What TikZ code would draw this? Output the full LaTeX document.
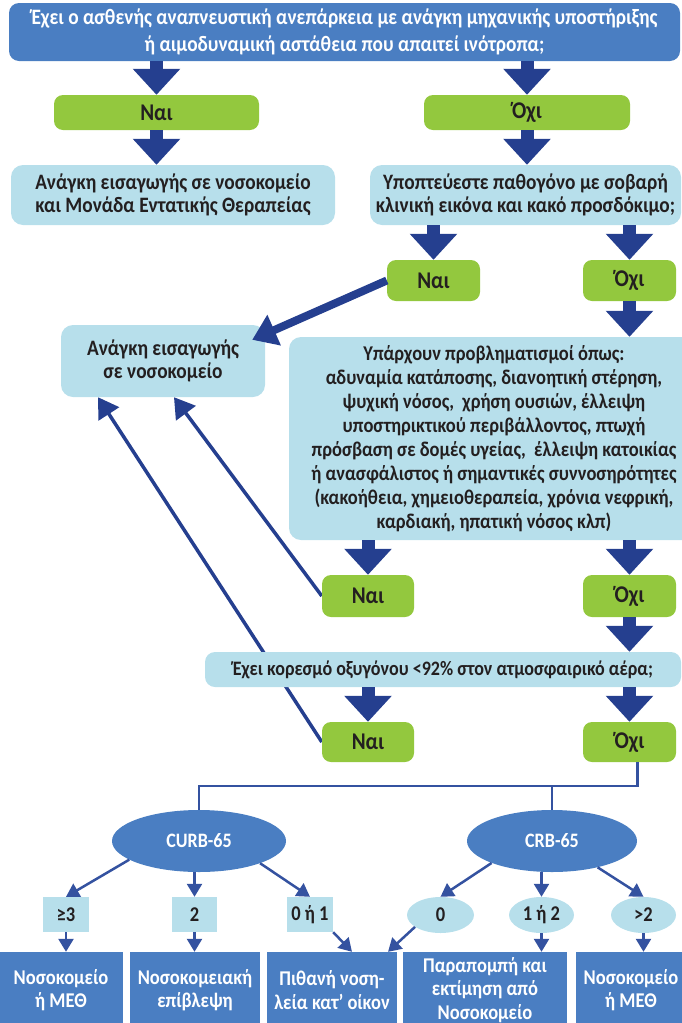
\documentclass[tikz,border=0pt]{standalone}
\usepackage{fontspec}
\setmainfont{Carlito}[FakeStretch=0.88]
\usetikzlibrary{arrows.meta,shapes.geometric}

\definecolor{boxblue}{RGB}{74,126,194}
\definecolor{arrowblue}{RGB}{37,63,143}
\definecolor{treeblue}{RGB}{52,82,160}
\definecolor{yesgreen}{RGB}{147,200,62}
\definecolor{paleblue}{RGB}{183,223,235}
\definecolor{inkdark}{RGB}{35,31,32}

\pgfdeclarelayer{back}
\pgfsetlayers{back,main}

\tikzset{
  question/.style={rounded corners=10pt, fill=boxblue, text=white, align=center, inner sep=0pt,
    font=\bfseries\fontsize{22}{27}\selectfont},
  answer/.style={rounded corners=9pt, fill=yesgreen, text=inkdark, inner sep=0pt,
    font=\bfseries\fontsize{24}{24}\selectfont},
  infobox/.style={rounded corners=12pt, fill=paleblue, text=inkdark, align=center, inner sep=0pt,
    font=\bfseries\fontsize{22}{23}\selectfont},
  score/.style={ellipse, fill=boxblue, text=white, inner sep=0pt,
    font=\bfseries\fontsize{20.5}{24}\selectfont},
  scorebox/.style={fill=paleblue, text=inkdark, inner sep=0pt, minimum height=35pt,
    font=\bfseries\fontsize{21}{24}\selectfont},
  scoreoval/.style={ellipse, fill=paleblue, text=inkdark, inner sep=0pt, minimum height=36pt,
    font=\bfseries\fontsize{21}{24}\selectfont},
  outcome/.style={fill=boxblue, text=white, align=center, inner sep=0pt, minimum height=76pt,
    font=\bfseries\fontsize{21}{23.5}\selectfont},
  fatarrow/.style={draw=arrowblue, line width=13pt, -{Triangle[width=46pt,length=26pt]}},
  bentarrow/.style={draw=arrowblue, line width=8pt, -{Triangle[width=32pt,length=24pt]}},
  slimarrow/.style={draw=arrowblue, line width=3.5pt, -{Triangle[width=24pt,length=20pt]}},
  treeline/.style={draw=treeblue, line width=2.2pt},
  scorearrow/.style={draw=treeblue, line width=2.5pt, -{Triangle[width=15pt,length=13pt]}},
}

\begin{document}
\begin{tikzpicture}[x=1pt,y=-1pt]
    \useasboundingbox (0,0) rectangle (682,1023);

    % first question
    \node[question, minimum width=671pt, minimum height=58pt] (q1) at (344.5,32)
        {Έχει ο ασθενής αναπνευστική ανεπάρκεια με ανάγκη μηχανικής υποστήριξης\\ή αιμοδυναμική αστάθεια που απαιτεί ινότροπα;};

    \node[answer, minimum width=205pt, minimum height=35pt] (yes1) at (156.5,112.5) {Ναι};
    \node[answer, minimum width=206pt, minimum height=35pt] (no1) at (527,112.5) {Όχι};

    \node[infobox, minimum width=324pt, minimum height=60pt] (icu) at (173,195)
        {Ανάγκη εισαγωγής σε νοσοκομείο\\και Μονάδα Εντατικής Θεραπείας};
    \node[infobox, minimum width=311pt, minimum height=60pt] (germ) at (525.5,195)
        {Υποπτεύεστε παθογόνο με σοβαρή\\κλινική εικόνα και κακό προσδόκιμο;};

    \node[answer, minimum width=93pt, minimum height=41pt] (yes2) at (433.5,280.5) {Ναι};
    \node[answer, minimum width=93pt, minimum height=41pt] (no2) at (629.5,280.5) {Όχι};

    \node[infobox, minimum width=204pt, minimum height=72pt] (hosp) at (163,361)
        {Ανάγκη εισαγωγής\\σε νοσοκομείο};
    \node[infobox, font=\bfseries\fontsize{21}{24}\selectfont, minimum width=410pt, minimum height=203pt] (concern) at (494,438.5)
        {Υπάρχουν προβληματισμοί όπως:\\
         αδυναμία κατάποσης, διανοητική στέρηση,\\
         ψυχική νόσος,\ \ χρήση ουσιών, έλλειψη\\
         υποστηρικτικού περιβάλλοντος, πτωχή\\
         πρόσβαση σε δομές υγείας,\ \ έλλειψη κατοικίας\\
         ή ανασφάλιστος ή σημαντικές συννοσηρότητες\\
         (κακοήθεια, χημειοθεραπεία, χρόνια νεφρική,\\
         καρδιακή, ηπατική νόσος κλπ)};

    \node[answer, minimum width=92pt, minimum height=42pt] (yes3) at (368,596) {Ναι};
    \node[answer, minimum width=93pt, minimum height=42pt] (no3) at (629.5,596) {Όχι};

    \node[infobox, font=\bfseries\fontsize{20.5}{23}\selectfont, rounded corners=10pt, minimum width=476pt, minimum height=35pt] (sat) at (443,669.5)
        {Έχει κορεσμό οξυγόνου <92\% στον ατμοσφαιρικό αέρα;};

    \node[answer, minimum width=92pt, minimum height=40pt] (yes4) at (368,742) {Ναι};
    \node[answer, minimum width=93pt, minimum height=40pt] (no4) at (629.5,742) {Όχι};

    % scores
    \coordinate (split) at (552,786);
    \node[score, minimum width=174pt, minimum height=62pt] (curb) at (199,841) {CURB-65};
    \node[score, minimum width=170pt, minimum height=62pt] (crb) at (552,841) {CRB-65};

    \node[scorebox, minimum width=46pt] (c3) at (66,914.5) {≥3};
    \node[scorebox, minimum width=45pt] (c2) at (194.5,914.5) {2};
    \node[scorebox, minimum width=46pt] (c01) at (310,914.5) {0 ή 1};
    \node[scoreoval, minimum width=67pt] (r0) at (440.5,915) {0};
    \node[scoreoval, minimum width=65pt] (r12) at (541.5,915) {1 ή 2};
    \node[scoreoval, minimum width=65pt] (r3) at (643.5,915) {>2};

    \node[outcome, minimum width=124pt] (out1) at (61,990) {Νοσοκομείο\\ή ΜΕΘ};
    \node[outcome, minimum width=130pt] (out2) at (195,990) {Νοσοκομειακή\\επίβλεψη};
    \node[outcome, minimum width=130pt] (out3) at (332,990) {Πιθανή νοση-\\λεία κατ’ οίκον};
    \node[outcome, minimum width=164pt] (out4) at (485,990) {Παραπομπή και\\εκτίμηση από\\Νοσοκομείο};
    \node[outcome, minimum width=110pt] (out5) at (631,990) {Νοσοκομείο\\ή ΜΕΘ};

    % yes / no arrows
    \draw[fatarrow] (yes1.north |- q1.south) -- (yes1.north);
    \draw[fatarrow] (no1.north |- q1.south) -- (no1.north);
    \draw[fatarrow] (yes1.south) -- (yes1.south |- icu.north);
    \draw[fatarrow] (no1.south) -- (no1.south |- germ.north);
    \draw[fatarrow] (yes2.north |- germ.south) -- (yes2.north);
    \draw[fatarrow] (no2.north |- germ.south) -- (no2.north);
    \draw[fatarrow] (no2.south) -- (no2.south |- concern.north);
    \draw[fatarrow] (yes3.north |- concern.south) -- (yes3.north);
    \draw[fatarrow] (no3.north |- concern.south) -- (no3.north);
    \draw[fatarrow] (no3.south) -- (no3.south |- sat.north);
    \draw[fatarrow] (yes4.north |- sat.south) -- (yes4.north);
    \draw[fatarrow] (no4.north |- sat.south) -- (no4.north);

    \draw[bentarrow] (yes2.west) -- ([shift={(-13,15)}]hosp.north east);

    \begin{pgfonlayer}{back}
        \draw[slimarrow] (yes3.west) -- ([xshift=11pt]hosp.south);
        \draw[slimarrow] (yes4.west) -- ([xshift=-65pt]hosp.south);
    \end{pgfonlayer}

    % score tree
    \draw[treeline] ([xshift=8pt]no4.south) |- (split) -| (curb.north);
    \draw[treeline] (split) -- (crb.north);

    \draw[scorearrow] (curb.195) -- (c3.north);
    \draw[scorearrow] (c2.north |- curb.south) -- (c2.north);
    \draw[scorearrow] (curb.340) -- (c01.north);
    \draw[scorearrow] (crb.200) -- (r0.north);
    \draw[scorearrow] (r12.north |- crb.south) -- (r12.north);
    \draw[scorearrow] (crb.330) -- (r3.north);

    \draw[scorearrow] (c3.south) -- (c3.south |- out1.north);
    \draw[scorearrow] (c2.south) -- (c2.south |- out2.north);
    \draw[scorearrow] (c01.south east) -- ([xshift=20pt]out3.north);
    \draw[scorearrow] (r0.205) -- ([xshift=56pt]out3.north);
    \draw[scorearrow] (r12.south) -- (r12.south |- out4.north);
    \draw[scorearrow] (r3.south) -- (r3.south |- out5.north);
\end{tikzpicture}
\end{document}
